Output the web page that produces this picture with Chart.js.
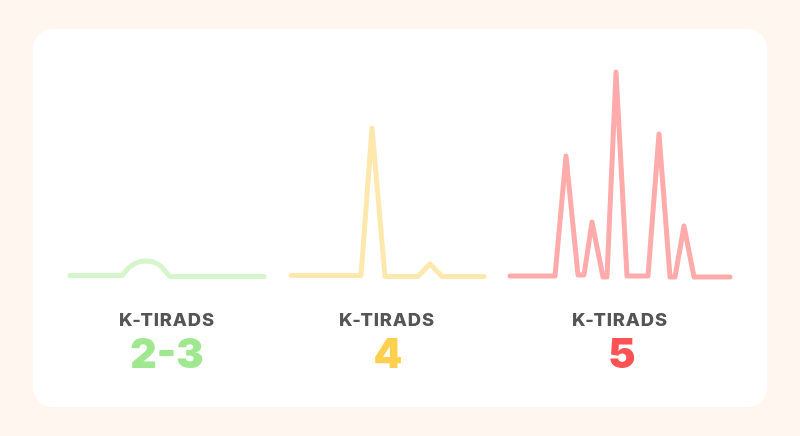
<!DOCTYPE html>
<html>
<head>
<meta charset="utf-8">
<script src="https://cdn.jsdelivr.net/npm/chart.js@4"></script>
<style>
    html, body { margin: 0; padding: 0; background: #fff6f0; }
    #page { position: relative; width: 800px; height: 436px; overflow: hidden; }
    #card { position: absolute; left: 33px; top: 29px; width: 734px; height: 378px; background: #fff; border-radius: 20px; }
    canvas { position: absolute; left: 0; top: 0; }
    .label { position: absolute; width: 200px; text-align: center; font-family: Inter, sans-serif; }
    .name { top: 309px; font-size: 17px; line-height: 22px; font-weight: 800; color: #555; letter-spacing: 0.8px; transform: scaleX(1.08); }
    .grade { top: 329px; font-size: 41px; line-height: 48px; font-weight: 900; }
</style>
</head>
<body>
<div id="page">
    <div id="card"></div>
    <canvas id="chart" width="800" height="436"></canvas>
    <div class="label name" style="left:67px">K-TIRADS</div>
    <div class="label grade" style="left:67px;color:#a0e88f">2-3</div>
    <div class="label name" style="left:287px">K-TIRADS</div>
    <div class="label grade" style="left:288px;color:#ffd050">4</div>
    <div class="label name" style="left:520px">K-TIRADS</div>
    <div class="label grade" style="left:522px;color:#ff5252">5</div>
</div>
<script>
// valeurs : position horizontale et hauteur au-dessus de la ligne de base
const lowX = [70, 122, 125, 129, 134, 140, 146, 152, 158, 163, 167, 170, 264];
const lowY = [0.5, 0.5, 4, 8.5, 12, 14.5, 15, 14.5, 12, 7.5, 2.5, -0.5, -0.5];
const midX = [291, 361, 372, 385, 418, 430, 442, 484];
const midY = [0.5, 0.5, 148, -0.5, -0.5, 12, -0.5, -0.5];
const highX = [510, 555, 566, 578, 584, 592, 603, 607, 616, 627, 648, 659, 670, 675, 684, 694, 730];
const highY = [0, 0, 120, 1, 1, 54, -1, -1, 204, 0, 0, 142, -1, -1, 50, -1, -1];

function toPoints(xs, ys) {
    return xs.map((x, i) => ({ x: x, y: ys[i] }));
}

function makeDataset(label, xs, ys, color) {
    return {
        label: label,
        data: toPoints(xs, ys),
        showLine: true,
        borderColor: color,
        borderWidth: 5,
        borderCapStyle: 'round',
        borderJoinStyle: 'round',
        pointRadius: 0,
        fill: false
    };
}

new Chart(document.getElementById('chart').getContext('2d'), {
    type: 'scatter',
    data: {
        datasets: [
            makeDataset('K-TIRADS 2-3', lowX, lowY, '#d5f6cc'),
            makeDataset('K-TIRADS 4', midX, midY, '#fee8ae'),
            makeDataset('K-TIRADS 5', highX, highY, '#ffabab')
        ]
    },
    options: {
        responsive: false,
        animation: false,
        devicePixelRatio: 1,
        layout: { padding: 0 },
        plugins: { legend: { display: false }, tooltip: { enabled: false } },
        scales: {
            x: { type: 'linear', display: false, min: 0, max: 800 },
            y: { type: 'linear', display: false, min: -160, max: 276 }
        }
    }
});
</script>
</body>
</html>
